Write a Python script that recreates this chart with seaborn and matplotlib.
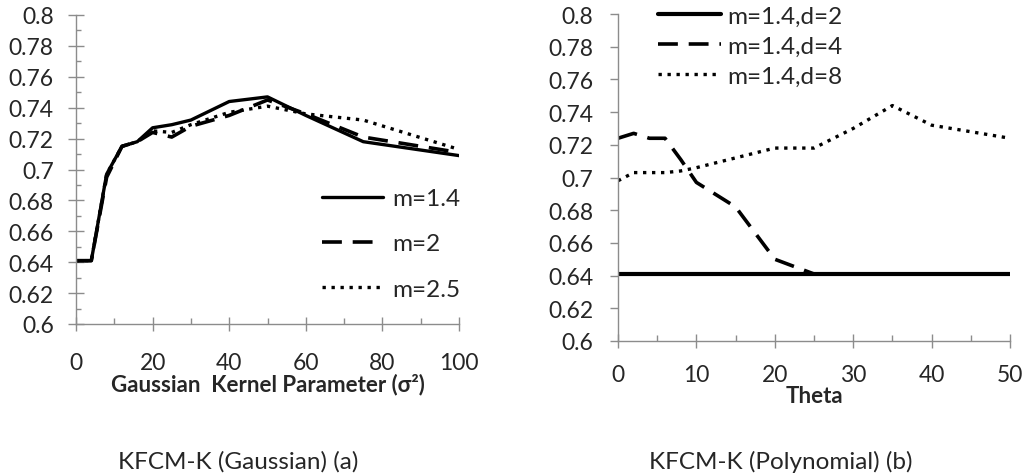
import numpy as np
import pandas as pd
import matplotlib
matplotlib.use("Agg")
import matplotlib.pyplot as plt
from matplotlib.ticker import MultipleLocator
import seaborn as sns

# Gaussian kernel parameter (sigma^2) sweep
sigma = [0, 4, 8, 12, 16, 20, 25, 30, 40, 50, 60, 75, 100]
gauss_m14 = [0.641, 0.641, 0.697, 0.715, 0.718, 0.727, 0.729, 0.732, 0.744, 0.747, 0.735, 0.718, 0.709]
gauss_m2 = [0.641, 0.641, 0.695, 0.715, 0.718, 0.724, 0.721, 0.728, 0.735, 0.745, 0.736, 0.721, 0.711]
gauss_m25 = [0.641, 0.641, 0.697, 0.715, 0.718, 0.725, 0.724, 0.729, 0.737, 0.741, 0.736, 0.732, 0.713]
gauss_labels = ["m=1.4", "m=2", "m=2.5"]

# Polynomial kernel, theta sweep
theta = [0, 2, 4, 6, 8, 10, 15, 20, 25, 30, 35, 40, 45, 50]
poly_d2 = [0.641] * 14
poly_d4 = [0.724, 0.727, 0.724, 0.724, 0.711, 0.697, 0.682, 0.650, 0.641, 0.641, 0.641, 0.641, 0.641, 0.641]
poly_d8 = [0.698, 0.703, 0.703, 0.703, 0.704, 0.706, 0.712, 0.718, 0.718, 0.730, 0.744, 0.732, 0.728, 0.724]
poly_labels = ["m=1.4,d=2", "m=1.4,d=4", "m=1.4,d=8"]

y_ticks = [0.6, 0.62, 0.64, 0.66, 0.68, 0.7, 0.72, 0.74, 0.76, 0.78, 0.8]
y_tick_labels = ["0.6", "0.62", "0.64", "0.66", "0.68", "0.7", "0.72", "0.74", "0.76", "0.78", "0.8"]

sns.set_theme(style="white")
plt.rcParams["font.family"] = ["Lato", "DejaVu Sans"]

W, H = 1028, 477
fig = plt.figure(figsize=(W / 100, H / 100), dpi=100)
fig.patch.set_facecolor("white")

AXIS_GRAY = "#8c8c8c"
TEXT = "#262626"
TICK_FS = 16.5
LEG_FS = 17.5


def px_axes(x0, y0, x1, y1):
    return fig.add_axes([x0 / W, 1 - y1 / H, (x1 - x0) / W, (y1 - y0) / H])


def style_axes(ax, xmax, xmajor, xminor, yminor, xpad, ypad, ydir, ylen):
    ax.set_ylim(0.6, 0.8)
    ax.set_xlim(0, xmax)
    ax.set_yticks(y_ticks)
    ax.set_yticklabels(y_tick_labels)
    ax.xaxis.set_major_locator(MultipleLocator(xmajor))
    ax.xaxis.set_minor_locator(MultipleLocator(xminor))
    if yminor:
        ax.yaxis.set_minor_locator(MultipleLocator(yminor))
    for s in ["top", "right"]:
        ax.spines[s].set_visible(False)
    for s in ["left", "bottom"]:
        ax.spines[s].set_color(AXIS_GRAY)
        ax.spines[s].set_linewidth(1.0)
    ax.tick_params(axis="y", which="major", direction=ydir, length=ylen, width=1,
                   color=AXIS_GRAY, labelsize=TICK_FS, labelcolor=TEXT, pad=ypad, left=True)
    ax.tick_params(axis="y", which="minor", direction="in", length=3.5, width=1,
                   color=AXIS_GRAY, left=True)
    ax.tick_params(axis="x", which="major", direction="inout", length=9.5, width=1,
                   color=AXIS_GRAY, labelsize=TICK_FS, labelcolor=TEXT, pad=xpad, bottom=True)
    ax.tick_params(axis="x", which="minor", direction="in", length=4, width=1,
                   color=AXIS_GRAY, bottom=True)
    ax.set_facecolor("white")


def draw(ax, x, series, labels, lws, styles):
    frames = []
    for vals, lab in zip(series, labels):
        frames.append(pd.DataFrame({"x": x, "y": vals, "series": lab}))
    df = pd.concat(frames, ignore_index=True)
    for lab, lw, ls in zip(labels, lws, styles):
        sub = df[df["series"] == lab]
        sns.lineplot(data=sub, x="x", y="y", ax=ax, color="black", linewidth=lw,
                     label=lab, sort=False, estimator=None)
        line = ax.get_lines()[-1]
        line.set_linestyle(ls)
        line.set_dash_capstyle("butt")
        line.set_solid_joinstyle("round")


solid = "-"
dashed = (0, (5.5, 3.0))
dotted = (0, (1.0, 1.7))

# (a) Gaussian kernel
ax1 = px_axes(76, 16, 459, 325)
draw(ax1, sigma, [gauss_m14, gauss_m2, gauss_m25], gauss_labels,
     [2.4, 2.6, 2.4], [solid, dashed, dotted])
style_axes(ax1, 100, 20, 10, 0.01, xpad=15.5, ypad=10.5, ydir="inout", ylen=11)
ax1.set_xlabel("Gaussian  Kernel Parameter (σ²)", fontsize=16,
               fontweight="bold", color=TEXT, labelpad=0)
ax1.set_ylabel("")
leg1 = ax1.legend(loc="upper left", bbox_to_anchor=(0.642, 0.44), frameon=False,
                  fontsize=LEG_FS, handlelength=2.5, handletextpad=0.4,
                  labelspacing=1.0, borderpad=0, borderaxespad=0)
for t in leg1.get_texts():
    t.set_color(TEXT)

# (b) Polynomial kernel
ax2 = px_axes(618, 15, 1010, 342)
draw(ax2, theta, [poly_d2, poly_d4, poly_d8], poly_labels,
     [3.0, 2.6, 2.4], [solid, dashed, dotted])
style_axes(ax2, 50, 10, 5, None, xpad=12, ypad=12, ydir="out", ylen=5.8)
ax2.set_xlabel("Theta", fontsize=16, fontweight="bold", color=TEXT, labelpad=0)
ax2.set_ylabel("")
leg2 = ax2.legend(loc="upper left", bbox_to_anchor=(0.102, 1.025), frameon=False,
                  fontsize=LEG_FS, handlelength=2.6, handletextpad=0.25,
                  labelspacing=0.37, borderpad=0, borderaxespad=0)
for t in leg2.get_texts():
    t.set_color(TEXT)

# Panel captions
fig.text(238 / W, 1 - 462 / H, "KFCM-K (Gaussian) (a)", ha="center", va="center",
         fontsize=17.5, color=TEXT)
fig.text(781 / W, 1 - 462 / H, "KFCM-K (Polynomial) (b)", ha="center", va="center",
         fontsize=17.5, color=TEXT)

fig.savefig("out.png", dpi=100, facecolor="white")
